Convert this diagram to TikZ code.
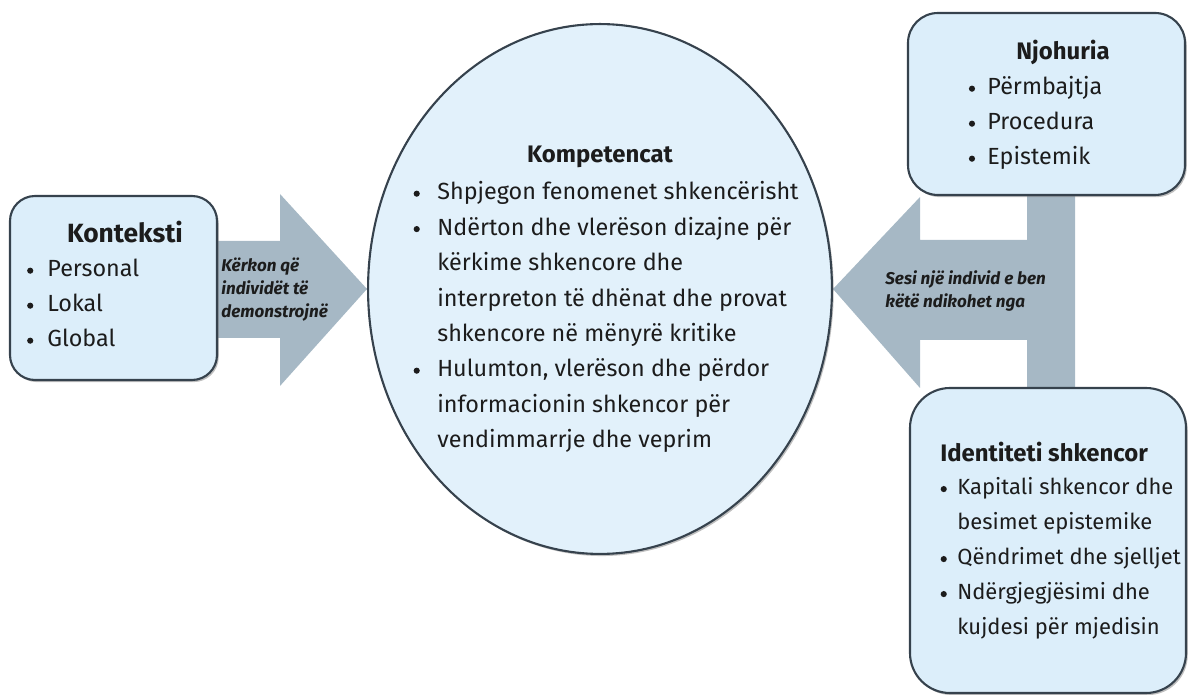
\documentclass[tikz,border=0pt]{standalone}
\usepackage{fontspec}
\setmainfont{Fira Sans}
\usetikzlibrary{shapes.geometric,shadows,calc,fit,positioning}
\pgfdeclarelayer{background}
\pgfsetlayers{background,main}

\definecolor{boxfill}{HTML}{DCEEFA}
\definecolor{ovalfill}{HTML}{E2F1FB}
\definecolor{edgecol}{HTML}{36424D}
\definecolor{arrowfill}{HTML}{A6B8C5}
\definecolor{inkcol}{HTML}{1C1C1C}

% round bullet hung to the left of the line start
\newcommand{\bl}[1][6pt]{\llap{\tikz[baseline=-0.27em]\fill[inkcol] (0,0) circle (1.75pt);\hspace*{#1}}}

\tikzset{
  infobox/.style={draw=edgecol, line width=1.2pt, fill=boxfill, inner sep=0pt,
    drop shadow={shadow xshift=1pt, shadow yshift=-1.2pt, opacity=0.5}},
  oval/.style={ellipse, draw=edgecol, line width=1.2pt, fill=ovalfill, inner sep=0pt,
    drop shadow={shadow xshift=1pt, shadow yshift=-1.2pt, opacity=0.5}},
  title/.style={font=\fontsize{13.6}{16}\selectfont\bfseries, text=inkcol, inner sep=0pt},
  line/.style={font=\fontsize{13.3}{16}\selectfont, text=inkcol, inner sep=0pt, anchor=base west},
  tag/.style={font=\fontsize{9.7}{11}\selectfont\bfseries\itshape, text=inkcol, inner sep=0pt, anchor=base west},
  bigarrow/.style={fill=arrowfill, draw=none}
}

\begin{document}
\begin{tikzpicture}[x=0.02cm, y=-0.02cm]
  \useasboundingbox (0,0) rectangle (1188,695);

  % boxes
  \node[infobox, rounded corners=0.5cm, fit={(10,196) (217,380)}] (ctx) {};
  \node[infobox, rounded corners=0.6cm, fit={(908,13) (1185,195)}] (njo) {};
  \node[infobox, rounded corners=0.8cm, fit={(910,388) (1186,693)}] (idn) {};
  \node[oval, minimum width=9.28cm, minimum height=10.6cm] (comp) at (600,289) {};

  % Konteksti
  \node[title, font=\fontsize{15}{18}\selectfont\bfseries, anchor=base] (ctxt) at (125,243) {Konteksti};
  \foreach \t [count=\i from 0] in {{\bl[8pt]Personal},{\bl[8pt]Lokal},{\bl[8pt]Global}}
    \node[line] (ctxl\i) at (47,{277+35*\i}) {\t};

  % Kompetencat
  \node[title, anchor=base] (compt) at (600,163) {Kompetencat};
  \foreach \t [count=\i from 0] in {
      {\bl[10pt]Shpjegon fenomenet shkencërisht},
      {\bl[10pt]Ndërton dhe vlerëson dizajne për},
      {kërkime shkencore dhe},
      {interpreton të dhënat dhe provat},
      {shkencore në mënyrë kritike},
      {\bl[10pt]Hulumton, vlerëson dhe përdor},
      {informacionin shkencor për},
      {vendimmarrje dhe veprim}}
    \node[line] (compl\i) at (437,{200+35.4*\i}) {\t};

  % Njohuria
  \node[title, anchor=base] (njot) at (1063,60) {Njohuria};
  \foreach \t [count=\i from 0] in {{\bl[7pt]Përmbajtja},{\bl[7pt]Procedura},{\bl[7pt]Epistemik}}
    \node[line] (njol\i) at (987,{95+35*\i}) {\t};

  % Identiteti shkencor
  \node[title, anchor=base west] (idnt) at (940,462) {Identiteti shkencor};
  \foreach \t [count=\i from 0] in {
      {\bl Kapitali shkencor dhe},
      {besimet epistemike},
      {\bl Qëndrimet dhe sjelljet},
      {\bl Ndërgjegjësimi dhe},
      {kujdesi për mjedisin}}
    \node[line, font=\fontsize{12.5}{15}\selectfont] (idnl\i) at (957,{495+35*\i}) {\t};

  % arrow labels
  \node[tag] (tagl0) at (221,272) {Kërkon që};
  \node[tag] (tagl1) at (221,295) {individët të};
  \node[tag] (tagl2) at (221,318) {demonstrojnë};
  \node[tag] (tagr0) at (885,285) {Sesi një individ e ben};
  \node[tag] (tagr1) at (885,308) {këtë ndikohet nga};

  % block arrows
  \coordinate (lhead) at (280,288);
  \coordinate (rhead) at (920,290);
  \coordinate (barc) at (1051,290);
  \coordinate (bartop) at (njo.south -| barc);
  \coordinate (barbot) at (idn.north -| barc);
  \begin{pgfonlayer}{background}
    \fill[bigarrow] ($(ctx.east)+(-6,-47)$) -- ($(lhead)+(0,-47)$) -- ($(lhead)+(0,-94)$)
      -- (comp.west) -- ($(lhead)+(0,98)$) -- ($(lhead)+(0,50)$) -- ($(ctx.east)+(-6,50)$) -- cycle;
    \fill[bigarrow] (comp.east) -- ($(rhead)+(0,-93)$) -- ($(rhead)+(0,-50)$) -- ($(barc)+(-24,-50)$)
      -- ($(bartop)+(-24,-6)$) -- ($(bartop)+(24,-6)$) -- ($(barbot)+(24,6)$) -- ($(barbot)+(-24,6)$)
      -- ($(barc)+(-24,50)$) -- ($(rhead)+(0,50)$) -- ($(rhead)+(0,98)$) -- cycle;
  \end{pgfonlayer}
\end{tikzpicture}
\end{document}
